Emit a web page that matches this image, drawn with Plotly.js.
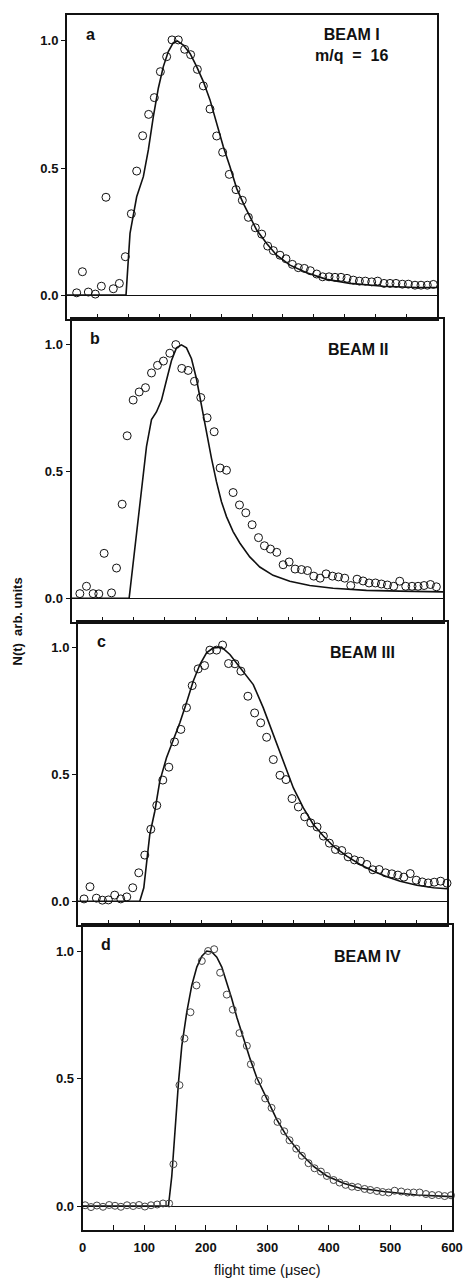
<!DOCTYPE html>
<html>
<head>
<meta charset="utf-8">
<script src="https://cdn.plot.ly/plotly-3.0.1.min.js"></script>
<style>html,body{margin:0;padding:0;background:#fff;}#chart{width:464px;height:1279px;}</style>
</head>
<body>
<div id="chart"></div>
<script>
// ---- Data ----
const panelLetters = ["a", "b", "c", "d"];
const beamLabels = ["BEAM I<br>m/q&nbsp; =&nbsp; 16", "BEAM II", "BEAM III", "BEAM IV"];
const xTickVals = [0, 100, 200, 300, 400, 500, 600];
const yTickVals = [0, 0.5, 1.0];
const yTickText = ["0.0", "0.5", "1.0"];

// Panel a (BEAM I) measured points
const aX = [15.7,25,34.6,45.9,55.7,63.2,75.1,84.9,94.6,104.3,113,122.7,132.4,141.6,151.4,161.6,170.3,180.5,190.8,200.5,211.4,221.1,231.9,242.7,252.4,263.2,274.1,284.3,294.1,305.4,315.7,325.4,334.6,345.4,355.1,365.4,375.1,384.9,394.6,404.9,414.6,424.9,434.6,444.3,454.1,464.3,474.1,483.8,494.1,503.8,514.1,523.8,533.5,543.8,553.5,564.3,574.1,584.3,594.1,603];
const aY = [0.009,0.092,0.012,0.004,0.035,0.385,0.025,0.046,0.151,0.320,0.488,0.627,0.711,0.777,0.879,0.938,1.004,1.004,0.967,0.946,0.888,0.823,0.732,0.626,0.562,0.475,0.415,0.373,0.306,0.265,0.240,0.193,0.175,0.157,0.143,0.121,0.108,0.105,0.096,0.083,0.072,0.072,0.070,0.070,0.066,0.059,0.055,0.055,0.052,0.055,0.046,0.046,0.046,0.043,0.043,0.039,0.039,0.039,0.042,0.043];
// Panel a model curve
const aFitX = [0,95.7,102.2,113,123.8,131.9,140,148.1,156.2,164.3,172.4,178.9,188.6,199.5,210.3,221.1,231.9,242.7,253.5,264.3,275.1,285.9,296.8,307.6,323.8,340,361.6,388.6,421,458.9,513,567,600];
const aFitY = [0,0,0.243,0.387,0.466,0.571,0.702,0.814,0.899,0.958,0.993,1.0,0.984,0.951,0.899,0.840,0.768,0.676,0.584,0.505,0.420,0.361,0.308,0.256,0.203,0.157,0.118,0.088,0.062,0.046,0.035,0.030,0.030];

// Panel b (BEAM II)
const bX = [13.5,24.2,35,44.1,52.7,64.6,72.7,81.8,89.9,99.6,109.3,119.5,129.2,138.9,148.5,158.8,168.5,178.1,188.4,198.6,208.8,219,230.4,240,250.3,261,271.3,281.5,291.7,302,311.6,321.3,331.5,341.8,351.5,361.1,371.4,381.1,391.3,401.5,411.2,421.4,431.1,441.3,451,461.2,470.9,480.6,490.9,500.5,510.2,520.4,530.1,539.8,550,559.7,569.4,579.7,589.3,601];
const bY = [0.018,0.047,0.018,0.017,0.177,0.021,0.119,0.371,0.641,0.782,0.814,0.831,0.889,0.919,0.936,0.967,1.001,0.907,0.899,0.856,0.792,0.712,0.657,0.514,0.505,0.417,0.368,0.337,0.290,0.239,0.207,0.194,0.181,0.132,0.143,0.115,0.113,0.109,0.087,0.079,0.096,0.087,0.084,0.079,0.050,0.075,0.068,0.060,0.060,0.056,0.052,0.047,0.067,0.047,0.047,0.047,0.050,0.054,0.045,0.042];
const bFitX = [0,93.1,121.1,129.2,137.2,145.3,153.4,161.5,169.5,177.6,185.7,193.8,201.8,209.9,218,226.1,234.1,242.2,250.3,261,271.8,287.9,304.1,325.6,352.5,384.8,422.5,476.3,530.1,600];
const bFitY = [0,0,0.598,0.705,0.735,0.781,0.860,0.938,0.988,1.0,0.988,0.945,0.866,0.761,0.650,0.552,0.460,0.381,0.322,0.263,0.218,0.163,0.123,0.090,0.067,0.050,0.039,0.031,0.028,0.025];

// Panel c (BEAM III)
const cX = [9.8,19.5,29.9,39.6,49.4,59.7,69.5,79.3,89,98.8,108.6,118.4,128.1,137.9,147.7,156.9,167.2,176.4,185.7,195.4,205.8,214.4,225.3,235.1,244.8,255.2,264.9,276.3,287.2,297,306.7,317.6,328.4,338.2,348,358.3,368.6,378.4,388.7,399,408.8,418.6,428.9,439.2,449.5,459.3,469.6,479.4,489.7,500,510.3,520.1,529.9,540.2,550,559.7,569.5,579.3,589.6,600];
const cY = [0.009,0.057,0.012,0.004,0.005,0.024,0.009,0.017,0.053,0.112,0.182,0.284,0.378,0.478,0.529,0.629,0.678,0.764,0.851,0.917,0.930,0.991,0.991,1.011,0.938,0.937,0.908,0.809,0.743,0.704,0.647,0.559,0.497,0.480,0.405,0.372,0.333,0.309,0.293,0.257,0.229,0.204,0.200,0.175,0.163,0.158,0.145,0.124,0.125,0.112,0.108,0.103,0.095,0.109,0.083,0.076,0.072,0.075,0.079,0.071];
const cFitX = [0,100.4,107,111.3,116.7,124.9,133,143.9,154.7,165.6,176.4,187.3,198.2,209,219.9,233.4,247,263.3,285,301.3,317.6,333.9,350.2,366.4,382.7,399,415.3,437,458.7,480.5,502.2,523.9,551,578.2,600];
const cFitY = [0,0,0.053,0.158,0.263,0.355,0.474,0.566,0.632,0.704,0.783,0.868,0.934,0.980,1.0,1.003,0.974,0.921,0.855,0.763,0.658,0.553,0.447,0.368,0.303,0.257,0.217,0.178,0.145,0.118,0.096,0.079,0.063,0.053,0.049];

// Panel d (BEAM IV)
const dX = [4,13.5,23,33,43,52.5,62,72,82,91.5,101,111,121,130.5,140.4,147.4,157.2,165.3,175.1,184.8,193.5,203.8,213.6,223.3,234.1,243.9,254.7,266.7,273.2,285.6,296.5,306.8,316.5,327.4,336,346.9,356.1,366.9,376.7,387,396.7,407.6,417.3,427.1,437.4,447.2,458,467.2,478,487.3,497,506.8,517.6,527.9,537.7,547.4,557.7,567.5,578.3,588.1,598.4];
const dY = [0.003,-0.004,0.002,-0.003,0.004,0.001,-0.003,0.003,0.0,0.004,-0.002,0.003,0.006,0.01,0.01,0.164,0.474,0.657,0.760,0.865,0.961,1.0,1.007,0.915,0.829,0.770,0.678,0.628,0.556,0.490,0.422,0.385,0.330,0.293,0.258,0.225,0.197,0.168,0.148,0.135,0.118,0.102,0.092,0.083,0.076,0.074,0.067,0.063,0.059,0.055,0.053,0.060,0.057,0.053,0.053,0.053,0.047,0.043,0.043,0.039,0.042];
const dFitX = [0,139.3,144.7,150.1,155.6,161,169.1,177.2,185.4,193.5,201.6,209.8,217.9,226,234.1,242.3,250.4,261.2,272.1,282.9,299.2,315.4,331.7,353.4,375.1,396.7,423.8,450.9,488.9,543.1,600];
const dFitY = [0,0,0.116,0.3,0.484,0.628,0.760,0.865,0.937,0.980,1.0,0.996,0.976,0.937,0.878,0.812,0.740,0.654,0.576,0.503,0.418,0.339,0.273,0.208,0.155,0.118,0.089,0.070,0.057,0.043,0.037];

// ---- Layout (pixel geometry of the scanned figure) ----
const W = 464, H = 1279;
const boxes = [ // left, right, top, bottom in px
  [67, 437, 15, 319],
  [71.5, 443, 319, 622],
  [78, 447, 622, 925],
  [82.7, 452, 925, 1230]
];
const FONT = "Liberation Sans, Arial, Helvetica, sans-serif";

const pts = [[aX,aY],[bX,bY],[cX,cY],[dX,dY]];
const fits = [[aFitX,aFitY],[bFitX,bFitY],[cFitX,cFitY],[dFitX,dFitY]];

const traces = [];
const layout = {
  width: W, height: H,
  margin: {l:0, r:0, t:0, b:0},
  paper_bgcolor: "#fff", plot_bgcolor: "#fff",
  showlegend: false,
  font: {family: FONT, color: "#111"},
  annotations: []
};

for (let i = 0; i < 4; i++) {
  const sfx = i === 0 ? "" : String(i + 1);
  const xa = "x" + sfx, ya = "y" + sfx;
  const [l, r, t, b] = boxes[i];
  traces.push({
    x: fits[i][0], y: fits[i][1], xaxis: xa, yaxis: ya,
    type: "scatter", mode: "lines",
    line: {color: "#111", width: 1.6, shape: "linear"},
    hoverinfo: "skip"
  });
  traces.push({
    x: pts[i][0], y: pts[i][1], xaxis: xa, yaxis: ya,
    type: "scatter", mode: "markers", cliponaxis: false,
    marker: {symbol: "circle-open", size: i === 3 ? 7 : 8, color: i === 3 ? "#444" : "#111", line: {width: 1}}
  });
  layout["xaxis" + sfx] = {
    domain: [l / W, r / W], anchor: ya, range: [0, 600],
    showline: true, linecolor: "#111", linewidth: 2, mirror: true,
    ticks: "inside", ticklen: 5, tickwidth: 1, tickcolor: "#111",
    tickmode: "array", tickvals: xTickVals,
    minor: {tickmode: "linear", tick0: 0, dtick: 50, ticks: "inside", ticklen: 5, tickwidth: 1, tickcolor: "#111"},
    showgrid: false, zeroline: false,
    showticklabels: i === 3,
    tickfont: {family: FONT, size: 13, weight: "bold", color: "#111"},
    ticklabelstandoff: 4
  };
  layout["yaxis" + sfx] = {
    domain: [1 - b / H, 1 - t / H], anchor: xa, range: [-0.094, 1.102],
    showline: true, linecolor: "#111", linewidth: 2, mirror: true,
    ticks: "outside", ticklen: 4, tickwidth: 1, tickcolor: "#111",
    tickmode: "array", tickvals: yTickVals, ticktext: yTickText,
    showgrid: false,
    zeroline: true, zerolinecolor: "#111", zerolinewidth: 1,
    tickfont: {family: FONT, size: 13, weight: "bold", color: "#111"}
  };
  layout.annotations.push({
    xref: xa, yref: ya, x: 38, y: 1.025, text: panelLetters[i], showarrow: false,
    xanchor: "center", yanchor: "middle",
    font: {family: FONT, size: 16, weight: "bold", color: "#111"}
  });
  layout.annotations.push({
    xref: xa, yref: ya, x: 462, y: i === 0 ? 0.985 : 0.98, text: beamLabels[i], showarrow: false,
    xanchor: "center", yanchor: "middle",
    font: {family: FONT, size: 16, weight: "bold", color: "#111"}
  });
}

layout.annotations.push({
  xref: "paper", yref: "paper", x: 16.5 / W, y: 1 - 622 / H,
  text: "N(t)&nbsp; arb. units", textangle: -90, showarrow: false,
  xanchor: "center", yanchor: "middle",
  font: {family: FONT, size: 13, weight: "bold", color: "#111"}
});
layout.annotations.push({
  xref: "paper", yref: "paper", x: 267.5 / W, y: 1 - 1270 / H,
  text: "flight time (μsec)", showarrow: false,
  xanchor: "center", yanchor: "middle",
  font: {family: FONT, size: 14.5, color: "#111"}
});

Plotly.newPlot("chart", traces, layout, {staticPlot: true, displayModeBar: false});
</script>
</body>
</html>
